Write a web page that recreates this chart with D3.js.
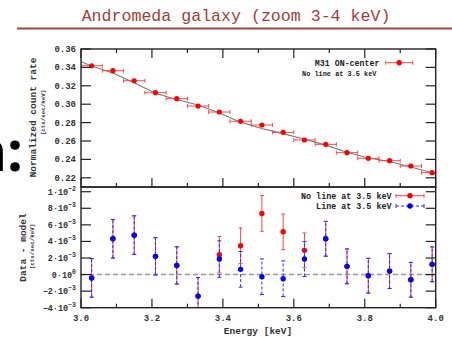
<!DOCTYPE html>
<html><head><meta charset="utf-8">
<script src="https://cdn.jsdelivr.net/npm/d3@7"></script>
<style>body{margin:0;background:#fff}svg{display:block}</style></head>
<body>
<svg id="c" width="452" height="337"></svg>
<script>
// ---- data ----
const energy = [3.03,3.09,3.15,3.21,3.27,3.33,3.39,3.45,3.51,3.57,3.63,3.69,3.75,3.81,3.87,3.93,3.99];
const binHalf = 0.03;
const rate = [0.3418,0.3364,0.3255,0.3125,0.3060,0.2980,0.2915,0.2814,0.2774,0.2694,0.2611,0.2564,0.2473,0.2412,0.2386,0.2328,0.2256];
const modelE = [3.00,3.03,3.09,3.15,3.21,3.27,3.33,3.39,3.45,3.51,3.57,3.63,3.69,3.75,3.81,3.87,3.93,3.99,4.00];
const modelRate = [0.3462,0.3415,0.3340,0.3232,0.3120,0.3052,0.2992,0.2905,0.2805,0.2735,0.2680,0.2620,0.2555,0.2478,0.2415,0.2378,0.2318,0.2255,0.2245];
// residuals in units of 1e-3 cts/sec/keV
const resNoLine = [-0.40,4.32,4.76,2.20,1.10,-2.60,2.40,3.48,7.38,5.16,2.92,4.32,0.99,-0.14,0.42,-0.63,1.23];
const errNoLine = [2.33,2.33,2.33,2.25,2.25,2.25,2.20,2.15,2.15,2.15,2.10,2.10,2.10,2.10,2.10,2.10,2.10];
const resLine   = [-0.40,4.32,4.76,2.20,1.10,-2.60,1.87,0.63,-0.26,-0.50,1.87,4.32,0.99,-0.14,0.42,-0.63,1.23];
const errLine   = [2.33,2.33,2.33,2.25,2.25,2.25,2.20,2.15,2.15,2.15,2.10,2.10,2.10,2.10,2.10,2.10,2.10];
const xTickVals = [3.0,3.2,3.4,3.6,3.8,4.0];
const xMinorVals = [3.1,3.3,3.5,3.7,3.9];
const yTopTicks = [0.22,0.24,0.26,0.28,0.30,0.32,0.34,0.36];
const yBotTicks = [-4,-2,0,2,4,6,8,10];
const yBotLabels = [["−4","−3"],["−2","−3"],["0","0"],["2","−3"],["4","−3"],["6","−3"],["8","−3"],["1","−2"]];

// ---- layout ----
const svg = d3.select("#c");
const L = 81, R = 435.7, T1 = 49, B1 = 187, B2 = 307.7;
const x = d3.scaleLinear().domain([3.0,4.0]).range([L,R]);
const yT = d3.scaleLinear().domain([0.21,0.36]).range([B1,T1]);
const yB = d3.scaleLinear().domain([-4,10.57]).range([B2,B1]);
const mono = "'Liberation Mono','DejaVu Sans Mono',monospace";

// slide fragment (cut off at the left edge, as in the reference)
svg.append("text").attr("x",23).attr("y",171).attr("text-anchor","end")
  .attr("font-family","'Open Sans',Lato,sans-serif").attr("font-weight",700)
  .attr("font-size",56).attr("fill","#000").text("n:");

// title
svg.append("text").attr("x",236).attr("y",21).attr("text-anchor","middle")
  .attr("font-family",mono).attr("font-size",16.6).attr("fill","#a23d37")
  .text("Andromeda galaxy (zoom 3-4 keV)");
svg.append("line").attr("x1",17).attr("x2",452).attr("y1",28.5).attr("y2",28.5)
  .attr("stroke","#a0453f").attr("stroke-width",2);

// clip paths
const defs = svg.append("defs");
defs.append("clipPath").attr("id","cT").append("rect").attr("x",L).attr("y",T1).attr("width",R-L).attr("height",B1-T1);
defs.append("clipPath").attr("id","cB").append("rect").attr("x",L).attr("y",B1).attr("width",R-L).attr("height",B2-B1);

// ---- top panel ----
const gT = svg.append("g").attr("clip-path","url(#cT)");
gT.append("path").datum(modelE.map((e,i)=>[e,modelRate[i]]))
  .attr("d", d3.line().x(d=>x(d[0])).y(d=>yT(d[1])))
  .attr("fill","none").attr("stroke","#777").attr("stroke-width",1.1);
energy.forEach((e,i)=>{
  const yy = yT(rate[i]);
  gT.append("line").attr("x1",x(e-binHalf)).attr("x2",x(e+binHalf)).attr("y1",yy).attr("y2",yy)
    .attr("stroke","#f24a4a").attr("stroke-width",1);
  [e-binHalf,e+binHalf].forEach(v=>gT.append("line").attr("x1",x(v)).attr("x2",x(v)).attr("y1",yy-2).attr("y2",yy+2)
    .attr("stroke","#f24a4a").attr("stroke-width",1));
  gT.append("circle").attr("cx",x(e)).attr("cy",yy).attr("r",2.6).attr("fill","#ff0000");
});

// ---- bottom panel ----
const gB = svg.append("g").attr("clip-path","url(#cB)");
gB.append("line").attr("x1",L).attr("x2",R).attr("y1",yB(0)).attr("y2",yB(0))
  .attr("stroke","#999").attr("stroke-width",1.4).attr("stroke-dasharray","5,3");
function errBars(vals, errs, color, dash){
  energy.forEach((e,i)=>{
    const cx = x(e), y1 = yB(vals[i]-errs[i]), y2 = yB(vals[i]+errs[i]);
    const ln = gB.append("line").attr("x1",cx).attr("x2",cx).attr("y1",y1).attr("y2",y2)
      .attr("stroke",color).attr("stroke-width",1);
    if (dash) ln.attr("stroke-dasharray",dash);
    [y1,y2].forEach(yy=>gB.append("line").attr("x1",cx-2).attr("x2",cx+2).attr("y1",yy).attr("y2",yy)
      .attr("stroke",color).attr("stroke-width",1));
  });
}
errBars(resNoLine, errNoLine, "#f04848", null);
energy.forEach((e,i)=>gB.append("circle").attr("cx",x(e)).attr("cy",yB(resNoLine[i])).attr("r",2.7).attr("fill","#ff0000"));
errBars(resLine, errLine, "#2a2aff", "3,2");
energy.forEach((e,i)=>gB.append("circle").attr("cx",x(e)).attr("cy",yB(resLine[i])).attr("r",2.7).attr("fill","#0000ff"));

// ---- frames and ticks ----
const fr = svg.append("g").attr("fill","none").attr("stroke","#222").attr("stroke-width",1.4);
fr.append("rect").attr("x",L).attr("y",T1).attr("width",R-L).attr("height",B1-T1);
fr.append("rect").attr("x",L).attr("y",B1).attr("width",R-L).attr("height",B2-B1);
const tk = svg.append("g").attr("stroke","#222").attr("stroke-width",1.2);
xTickVals.forEach(v=>{
  tk.append("line").attr("x1",x(v)).attr("x2",x(v)).attr("y1",T1).attr("y2",T1+9);
  tk.append("line").attr("x1",x(v)).attr("x2",x(v)).attr("y1",B1).attr("y2",B1-9);
  tk.append("line").attr("x1",x(v)).attr("x2",x(v)).attr("y1",B2).attr("y2",B2-9);
});
xMinorVals.forEach(v=>{
  tk.append("line").attr("x1",x(v)).attr("x2",x(v)).attr("y1",T1).attr("y2",T1+4);
  tk.append("line").attr("x1",x(v)).attr("x2",x(v)).attr("y1",B1).attr("y2",B1-4);
  tk.append("line").attr("x1",x(v)).attr("x2",x(v)).attr("y1",B2).attr("y2",B2-4);
});
yTopTicks.forEach(v=>{
  tk.append("line").attr("x1",L).attr("x2",L+10).attr("y1",yT(v)).attr("y2",yT(v));
  tk.append("line").attr("x1",R).attr("x2",R-10).attr("y1",yT(v)).attr("y2",yT(v));
});
yBotTicks.forEach(v=>{
  tk.append("line").attr("x1",L).attr("x2",L+10).attr("y1",yB(v)).attr("y2",yB(v));
  tk.append("line").attr("x1",R).attr("x2",R-10).attr("y1",yB(v)).attr("y2",yB(v));
});

// ---- tick labels ----
const lab = svg.append("g").attr("font-family",mono).attr("font-weight",700).attr("fill","#333");
yTopTicks.forEach(v=>lab.append("text").attr("x",76).attr("y",yT(v)+3).attr("text-anchor","end")
  .attr("font-size",9).text(d3.format(".2f")(v)));
yBotTicks.forEach((v,i)=>{
  const t = lab.append("text").attr("x",76).attr("y",yB(v)+3).attr("text-anchor","end").attr("font-size",8.5);
  t.append("tspan").text(yBotLabels[i][0]+"·10");
  t.append("tspan").attr("dy",-4).attr("font-size",6.5).text(yBotLabels[i][1]);
});
xTickVals.forEach(v=>lab.append("text").attr("x",x(v)).attr("y",320.5).attr("text-anchor","middle")
  .attr("font-size",9).text(d3.format(".1f")(v)));

// axis titles
lab.append("text").attr("x",258).attr("y",333.5).attr("text-anchor","middle").attr("font-size",9.5).text("Energy [keV]");
function vtitle(cx, cy, txt, fs){
  lab.append("text").attr("transform",`translate(${cx},${cy}) rotate(-90)`).attr("text-anchor","middle")
    .attr("font-size",fs).text(txt);
}
vtitle(36.3, 117.5, "Normalized count rate", 9.5);
vtitle(45.3, 112.5, "[cts/sec/keV]", 5.8);
vtitle(25.7, 247.5, "Data - model", 9.5);
vtitle(33.7, 246.5, "[cts/sec/keV]", 5.8);

// ---- legends ----
const lg = svg.append("g").attr("font-family",mono).attr("font-weight",700).attr("fill","#222");
lg.append("text").attr("x",379.5).attr("y",65.5).attr("text-anchor","end").attr("font-size",8.3).text("M31 ON-center");
lg.append("text").attr("x",376.5).attr("y",75.5).attr("text-anchor","end").attr("font-size",6.9).text("No line at 3.5 keV");
lg.append("text").attr("x",391.5).attr("y",198.5).attr("text-anchor","end").attr("font-size",8.4).text("No line at 3.5 keV");
lg.append("text").attr("x",391.5).attr("y",209).attr("text-anchor","end").attr("font-size",8.4).text("Line at 3.5 keV");
function legSym(x1,x2,yy,color,dash,fill){
  const l = svg.append("line").attr("x1",x1).attr("x2",x2).attr("y1",yy).attr("y2",yy).attr("stroke",color).attr("stroke-width",1);
  if (dash) l.attr("stroke-dasharray",dash);
  [x1,x2].forEach(v=>svg.append("line").attr("x1",v).attr("x2",v).attr("y1",yy-2).attr("y2",yy+2).attr("stroke",color).attr("stroke-width",1));
  svg.append("circle").attr("cx",(x1+x2)/2).attr("cy",yy).attr("r",2.7).attr("fill",fill);
}
legSym(385.7,412.7,62.7,"#f04848",null,"#ff0000");
legSym(396,424,195.7,"#f04848",null,"#ff0000");
legSym(396,424,206,"#2a2aff","3,2","#0000ff");
</script>
</body></html>
